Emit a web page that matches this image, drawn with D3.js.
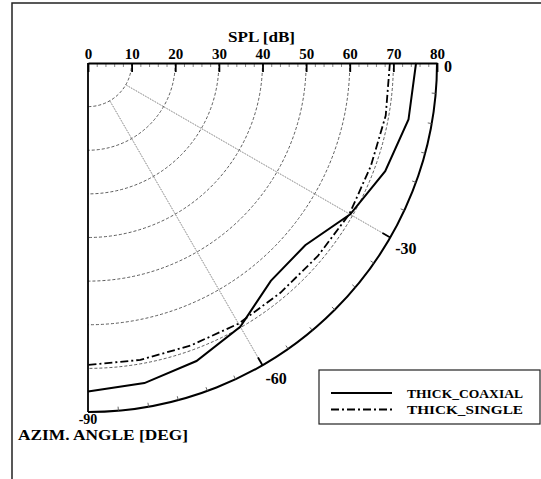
<!DOCTYPE html>
<html><head><meta charset="utf-8">
<script src="https://cdn.jsdelivr.net/npm/d3@7"></script>
<style>body{margin:0;background:#fff}svg{display:block}</style>
</head><body><svg id="c" width="541" height="479"></svg>
<script>
const azimuths = [0,-10,-20,-30,-40,-50,-60,-70,-80,-90];
const coaxial = [75.2,74.6,72.5,69.4,65.0,65.2,69.8,72.7,74.5,75.3];
const single  = [69.2,69.3,69.0,69.2,68.8,68.7,69.0,68.9,69.1,69.2];
const splTicks = [0,10,20,30,40,50,60,70,80];
const gridRings = [10,20,30,40,50,60,70];
const angleTicks = [0,-30,-60,-90];
const seriesNames = ["THICK_COAXIAL","THICK_SINGLE"];

const svg = d3.select("#c");
const FONT = "'Liberation Serif','Times New Roman',serif";
const O = {x:88, y:63};
const R = 349;
const r = d3.scaleLinear().domain([0,80]).range([0,R]);
// d3 radial angle: clockwise from north; azimuth 0 -> east, -90 -> south
const a = d3.scaleLinear().domain([0,-90]).range([Math.PI/2, Math.PI]);
const px = (az, v) => O.x + r(v)*Math.sin(a(az));
const py = (az, v) => O.y - r(v)*Math.cos(a(az));

// frame
svg.append("rect").attr("x",12).attr("y",3).attr("width",560).attr("height",520)
  .attr("fill","none").attr("stroke","#222").attr("stroke-width",1.5);

const g = svg.append("g").attr("transform",`translate(${O.x},${O.y})`);

// grid rings
gridRings.forEach(v=>{
  const p = d3.path(); p.arc(0,0,r(v),0,Math.PI/2);
  g.append("path").attr("d",p.toString()).attr("fill","none")
   .attr("stroke","#333").attr("stroke-width",0.8).attr("stroke-dasharray","3,2");
});
// radial grid lines
angleTicks.filter(d=>d!==0 && d!==-90).forEach(az=>{
  g.append("line")
   .attr("x1",r(10)*Math.sin(a(az))).attr("y1",-r(10)*Math.cos(a(az)))
   .attr("x2",r(80)*Math.sin(a(az))).attr("y2",-r(80)*Math.cos(a(az)))
   .attr("stroke","#444").attr("stroke-width",0.8).attr("stroke-dasharray","1,1");
});

// outer arc
{
  const p = d3.path(); p.arc(0,0,r(80),0,Math.PI/2);
  g.append("path").attr("d",p.toString()).attr("fill","none")
   .attr("stroke","#000").attr("stroke-width",2);
}
// left axis line
g.append("line").attr("x1",0).attr("y1",0).attr("x2",0).attr("y2",r(80))
 .attr("stroke","#000").attr("stroke-width",1.8);

// angle ticks on outer arc
d3.range(-5,-90,-5).forEach(az=>{
  const major = az % 30 === 0;
  const len = major ? 9 : 4;
  g.append("line")
   .attr("x1",r(80)*Math.sin(a(az))).attr("y1",-r(80)*Math.cos(a(az)))
   .attr("x2",(r(80)-len)*Math.sin(a(az))).attr("y2",-(r(80)-len)*Math.cos(a(az)))
   .attr("stroke", major?"#000":"#555").attr("stroke-width", major?1.8:0.9);
});

// top axis (SPL)
const minor = svg.append("g").attr("transform",`translate(${O.x},${O.y})`)
  .call(d3.axisTop(r).tickValues(d3.range(0,81,2)).tickSize(-4).tickFormat(""));
minor.select(".domain").remove();
minor.selectAll("line").attr("stroke","#666").attr("stroke-width",0.8);

const axis = svg.append("g").attr("transform",`translate(${O.x},${O.y})`)
  .call(d3.axisTop(r).tickValues(splTicks).tickSizeInner(-9).tickSizeOuter(0).tickPadding(4));
axis.select(".domain").attr("stroke","#000").attr("stroke-width",1.8);
axis.selectAll(".tick line").attr("stroke","#000").attr("stroke-width",1.8);
axis.selectAll(".tick text").attr("font-family",FONT).attr("font-weight","bold")
  .attr("font-size",15).attr("fill","#000");

svg.append("text").attr("x",228).attr("y",42).text("SPL [dB]")
  .attr("font-family",FONT).attr("font-weight","bold").attr("font-size",14)
  .attr("textLength",67).attr("lengthAdjust","spacingAndGlyphs");

// angle labels
const angOff = {"0":[7,9,"start"], "-30":[5,16,"start"], "-60":[3,19,"start"], "-90":[0,12,"middle"]};
angleTicks.forEach(az=>{
  const o = angOff[String(az)];
  svg.append("text").attr("x",px(az,80)+o[0]).attr("y",py(az,80)+o[1])
    .attr("text-anchor",o[2]).text(String(az))
    .attr("font-family",FONT).attr("font-weight","bold").attr("font-size", az===-90?14:16);
});
svg.append("text").attr("x",18).attr("y",440).text("AZIM. ANGLE [DEG]")
  .attr("font-family",FONT).attr("font-weight","bold").attr("font-size",14)
  .attr("textLength",170).attr("lengthAdjust","spacingAndGlyphs");

// series
const line = d3.lineRadial().angle(d=>a(d[0])).radius(d=>r(d[1]));
const series = [
  {name:seriesNames[0], vals:coaxial, dash:null, w:2},
  {name:seriesNames[1], vals:single, dash:"8,3,2,3", w:1.8}
];
series.forEach(s=>{
  g.append("path").attr("d",line(azimuths.map((az,i)=>[az,s.vals[i]])))
   .attr("fill","none").attr("stroke","#000").attr("stroke-width",s.w)
   .attr("stroke-dasharray",s.dash);
});

// legend
const lg = svg.append("g");
lg.append("rect").attr("x",319).attr("y",370).attr("width",221).attr("height",54)
  .attr("fill","#fff").attr("stroke","#222").attr("stroke-width",1.2);
series.forEach((s,i)=>{
  const y = 393 + i*16.5;
  lg.append("line").attr("x1",331).attr("x2",392).attr("y1",y).attr("y2",y)
    .attr("stroke","#000").attr("stroke-width",s.w).attr("stroke-dasharray",s.dash);
  lg.append("text").attr("x",407).attr("y",y+4.5).text(s.name)
    .attr("font-family",FONT).attr("font-weight","bold").attr("font-size",13)
    .attr("textLength",116).attr("lengthAdjust","spacingAndGlyphs");
});
</script></body></html>
